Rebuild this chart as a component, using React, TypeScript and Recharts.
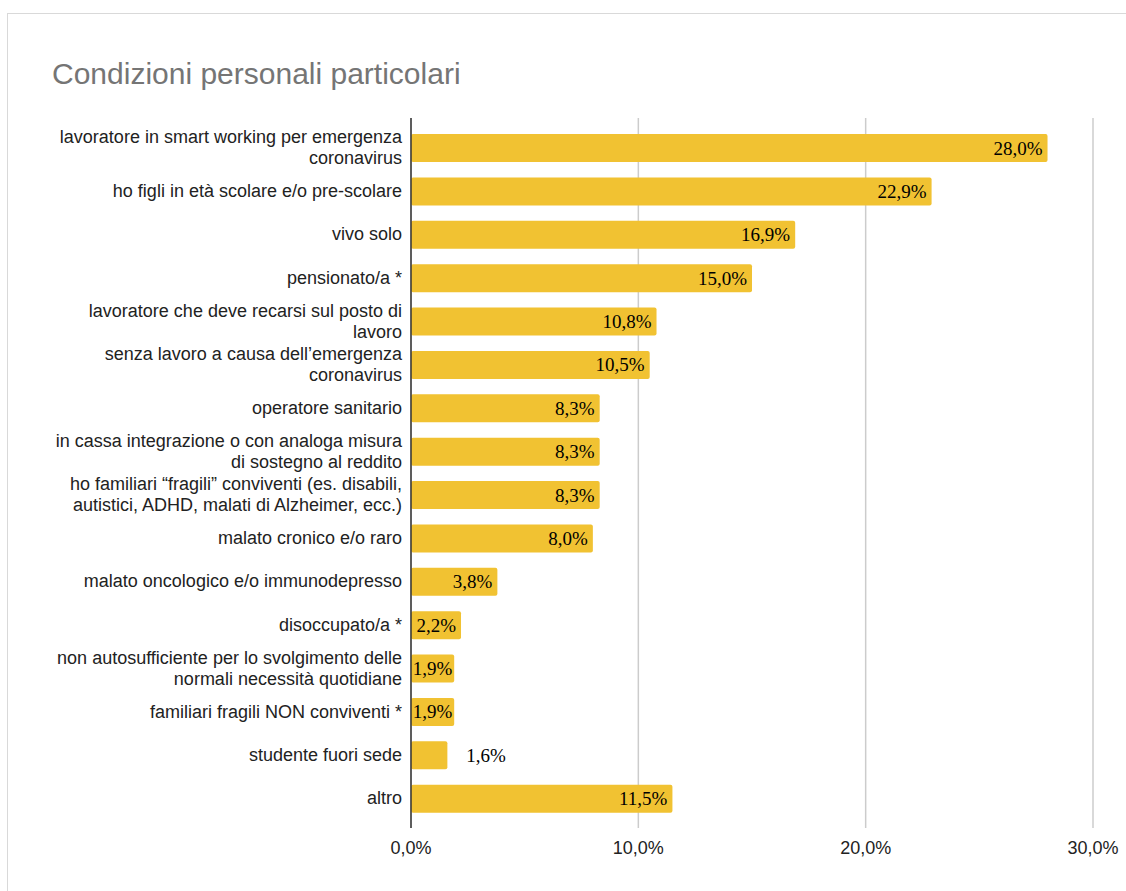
import React from "react";
import { BarChart, Bar, XAxis, YAxis, CartesianGrid, LabelList } from "recharts";

const TITLE = "Condizioni personali particolari";

const categories: string[] = [
  "lavoratore in smart working per emergenza\ncoronavirus",
  "ho figli in età scolare e/o pre-scolare",
  "vivo solo",
  "pensionato/a *",
  "lavoratore che deve recarsi sul posto di\nlavoro",
  "senza lavoro a causa dell’emergenza\ncoronavirus",
  "operatore sanitario",
  "in cassa integrazione o con analoga misura\ndi sostegno al reddito",
  "ho familiari “fragili” conviventi (es. disabili,\nautistici, ADHD, malati di Alzheimer, ecc.)",
  "malato cronico e/o raro",
  "malato oncologico e/o immunodepresso",
  "disoccupato/a *",
  "non autosufficiente per lo svolgimento delle\nnormali necessità quotidiane",
  "familiari fragili NON conviventi *",
  "studente fuori sede",
  "altro",
];

const values: number[] = [28.0, 22.9, 16.9, 15.0, 10.8, 10.5, 8.3, 8.3, 8.3, 8.0, 3.8, 2.2, 1.9, 1.9, 1.6, 11.5];

const xTicks: number[] = [0, 10, 20, 30];

const data = categories.map((name, i) => ({ name, value: values[i] }));

const fmt = (v: number) => v.toFixed(1).replace(".", ",") + "%";

const SANS = "Arial, 'Liberation Sans', sans-serif";
const SERIF = "'Liberation Serif', 'Times New Roman', serif";
const VALUE_FS = 19;

const CategoryTick = (props: any) => {
  const { x, y, payload } = props;
  const lines: string[] = String(payload.value).split("\n");
  const lh = 21;
  const start = -((lines.length - 1) * lh) / 2;
  return (
    <text x={x} y={y} textAnchor="end" fill="#222222" fontFamily={SANS} fontSize={18}>
      {lines.map((l, i) => (
        <tspan key={i} x={x} y={y + start + i * lh} dominantBaseline="central">
          {l}
        </tspan>
      ))}
    </text>
  );
};

const textWidth = (s: string, fs: number) => {
  let w = 0;
  for (const c of s) {
    if (c === ",") w += 0.25;
    else if (c === "%") w += 0.833;
    else w += 0.5;
  }
  return w * fs;
};

const ValueLabel = (props: any) => {
  const { x, y, width, height, value } = props;
  const text = fmt(Number(value));
  const tw = textWidth(text, VALUE_FS);
  let tx: number;
  let anchor: "start" | "middle" | "end";
  if (width >= tw + 10) {
    tx = x + width - 5;
    anchor = "end";
  } else if (width >= tw + 2) {
    tx = x + width / 2;
    anchor = "middle";
  } else {
    tx = x + width + 19;
    anchor = "start";
  }
  return (
    <text
      x={tx}
      y={y + height / 2}
      textAnchor={anchor}
      dominantBaseline="central"
      fill="#000000"
      fontFamily={SERIF}
      fontSize={VALUE_FS}
    >
      {text}
    </text>
  );
};

export default function App() {
  return (
    <div style={{ position: "absolute", left: 0, top: 0, width: 1126, height: 891, background: "#fff", overflow: "hidden" }}>
      <div
        style={{
          position: "absolute",
          left: 7,
          top: 13,
          width: 1200,
          height: 1000,
          borderTop: "1.5px solid #d9d9d9",
          borderLeft: "1.5px solid #d9d9d9",
        }}
      />
      <div
        style={{
          position: "absolute",
          left: 52,
          top: 56,
          fontFamily: SANS,
          fontSize: 30,
          color: "#757575",
          whiteSpace: "nowrap",
          lineHeight: "35px",
        }}
      >
        {TITLE}
      </div>
      <div style={{ position: "absolute", left: 0, top: 0 }}>
        <BarChart
          width={1126}
          height={891}
          data={data}
          layout="vertical"
          margin={{ top: 118, right: 33, bottom: 33, left: 0 }}
          barSize={28}
        >
          <CartesianGrid horizontal={false} stroke="#cccccc" strokeWidth={1.5} />
          <XAxis
            type="number"
            domain={[0, 30]}
            ticks={xTicks}
            tickFormatter={fmt}
            axisLine={false}
            tickLine={false}
            tickMargin={7}
            height={30}
            tick={{ fill: "#222222", fontSize: 18, fontFamily: SANS }}
          />
          <YAxis
            type="category"
            dataKey="name"
            width={411}
            axisLine={{ stroke: "#333333", strokeWidth: 1.5 }}
            tickLine={false}
            tickMargin={3}
            padding={{ top: 8, bottom: 8 }}
            tick={<CategoryTick />}
            interval={0}
          />
          <Bar dataKey="value" fill="#F1C232" radius={2} isAnimationActive={false}>
            <LabelList dataKey="value" content={<ValueLabel />} />
          </Bar>
        </BarChart>
      </div>
    </div>
  );
}
